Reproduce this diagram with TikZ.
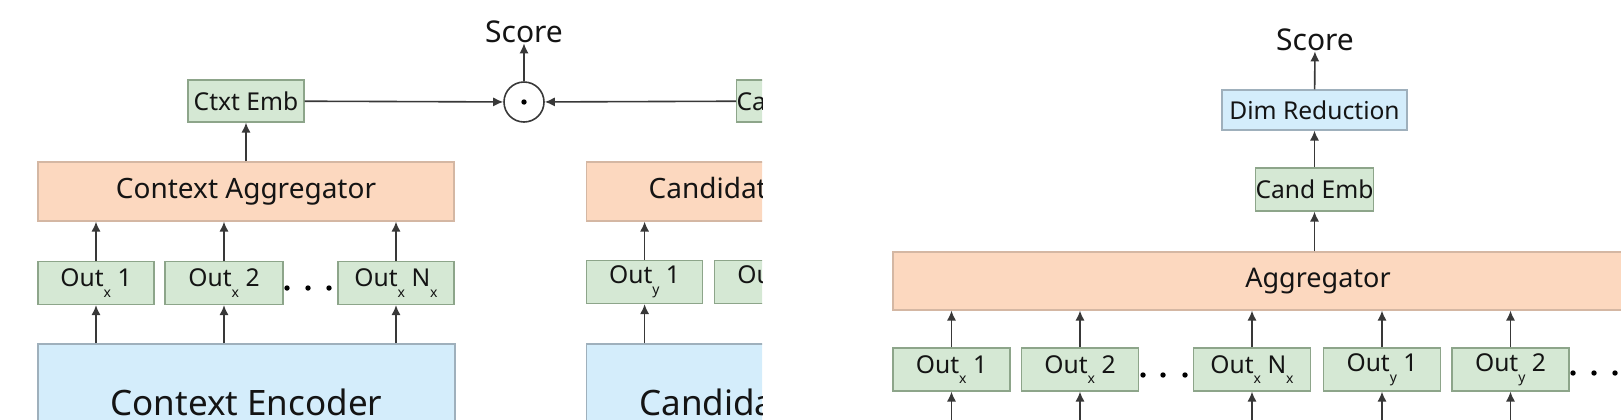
\documentclass[tikz,border=0pt]{standalone}
\usepackage{fontspec}
\setmainfont{Noto Sans}
\usetikzlibrary{positioning,arrows.meta}

\definecolor{embgreen}{HTML}{D5E8D4}
\definecolor{embline}{HTML}{8DA58A}
\definecolor{aggpeach}{HTML}{FCD8BF}
\definecolor{aggline}{HTML}{D4B7A3}
\definecolor{encblue}{HTML}{D4EDFB}
\definecolor{encline}{HTML}{9FB0BC}
\definecolor{wire}{HTML}{383838}
\newcommand{\lowsub}[1]{\raisebox{-0.8ex}{\scriptsize #1}}

\begin{document}
\begin{tikzpicture}[
  x=0.5pt, y=-0.5pt,
  every node/.style={text=black!92, inner sep=0pt},
  embbox/.style={
    draw=embline, fill=embgreen, line width=0.6pt,
    minimum width=58pt, minimum height=21pt,
    font=\fontsize{12.3}{14}\selectfont
  },
  outbox/.style={embbox, minimum height=21.5pt},
  aggbox/.style={
    draw=aggline, fill=aggpeach, line width=0.6pt,
    minimum width=208pt, minimum height=29.5pt,
    font=\fontsize{14}{16}\selectfont
  },
  encbox/.style={
    draw=encline, fill=encblue, line width=0.6pt,
    minimum width=208.5pt, minimum height=58pt,
    font=\fontsize{17.5}{20}\selectfont
  },
  link/.style={-{Latex[length=5pt,width=4.6pt]}, draw=wire, line width=0.8pt}
]
\useasboundingbox (0,0) rectangle (1621,419);
\clip (0,0) rectangle (1621,419);

% left panel: context tower
\node[embbox] (ctxemb) at (246,101) {Ctxt Emb};
\node[aggbox] (ctxagg) at (246,191.5) {Context Aggregator};
\node[outbox] (ctxo1) at (96,283) {Out\lowsub{x} 1};
\node[outbox, minimum width=59pt] (ctxo2) at (224,283) {Out\lowsub{x} 2};
\node[outbox] (ctxon) at (396,283) {Out\lowsub{x} N\lowsub{x}};
\node[encbox] (ctxenc) at (246.5,402) {Context Encoder};

\foreach \dx in {287,308,329} \fill[black] (\dx,288) circle (2.7);

% dot product and score
\node[circle, draw=wire, line width=0.8pt, minimum size=20pt] (prod) at (524,102) {};
\fill[black] (prod.center) circle (2.7);
\node[font=\fontsize{15}{18}\selectfont] (score) at (524,32) {Score};

% candidate tower, cut at the panel edge
\begin{scope}
\clip (0,0) rectangle (762,419);
\node[embbox, anchor=west] (candemb) at (736,101) {Cand Emb};
\node[aggbox, anchor=west] (candagg) at (586,191.5) {Candidate Aggregator};
\node[outbox, anchor=west] (cando1) at (586,282) {Out\lowsub{y} 1};
\node[outbox, right=5.5pt of cando1] (cando2) {Out\lowsub{y} 2};
\node[encbox, anchor=west] (candenc) at (586,402) {Candidate Encoder};
\foreach \o in {cando1,cando2} {
  \draw[link] (\o.north) -- (\o.north |- candagg.south);
  \draw[link] (\o.south |- candenc.north) -- (\o.south);
}
\end{scope}

\draw[link] (ctxagg) -- (ctxemb);
\foreach \o in {ctxo1,ctxo2,ctxon} {
  \draw[link] (\o.north) -- (\o.north |- ctxagg.south);
  \draw[link] (\o.south |- ctxenc.north) -- (\o.south);
}
\draw[link] (ctxemb) -- (prod);
\draw[link] (candemb) -- (prod);
\draw[link] (prod) -- (score);

% right panel: cross scoring
\node[font=\fontsize{15}{18}\selectfont] (score2) at (1315,40) {Score};
\node[embbox, draw=encline, fill=encblue, minimum width=92.5pt, minimum height=20pt] (dimred) at (1314.5,110) {Dim Reduction};
\node[outbox] (candemb2) at (1314.5,189.5) {Cand Emb};
\node[aggbox, minimum width=425pt, minimum height=29pt, font=\fontsize{13.5}{16}\selectfont] (agg) at (1318,281) {Aggregator};
\coordinate (base) at (0,430);

\foreach \name/\px/\lab in {o1/951.5/{Out\lowsub{x} 1}, o2/1080/{Out\lowsub{x} 2},
    on/1252/{Out\lowsub{x} N\lowsub{x}}, oy1/1382/{Out\lowsub{y} 1}, oy2/1510.5/{Out\lowsub{y} 2}} {
  \node[outbox, minimum width=58.5pt] (\name) at (\px,369.5) {\lab};
  \draw[link] (\name.north) -- (\name.north |- agg.south);
  \draw[link] (\name.south |- base) -- (\name.south);
}
\foreach \dx in {1143,1163,1185} \fill[black] (\dx,375) circle (2.7);
\foreach \dx in {1573,1594,1615} \fill[black] (\dx,373) circle (2.7);

\draw[link] (agg.north -| candemb2) -- (candemb2);
\draw[link] (candemb2) -- (dimred);
\draw[link] (dimred) -- (score2);

\end{tikzpicture}
\end{document}
